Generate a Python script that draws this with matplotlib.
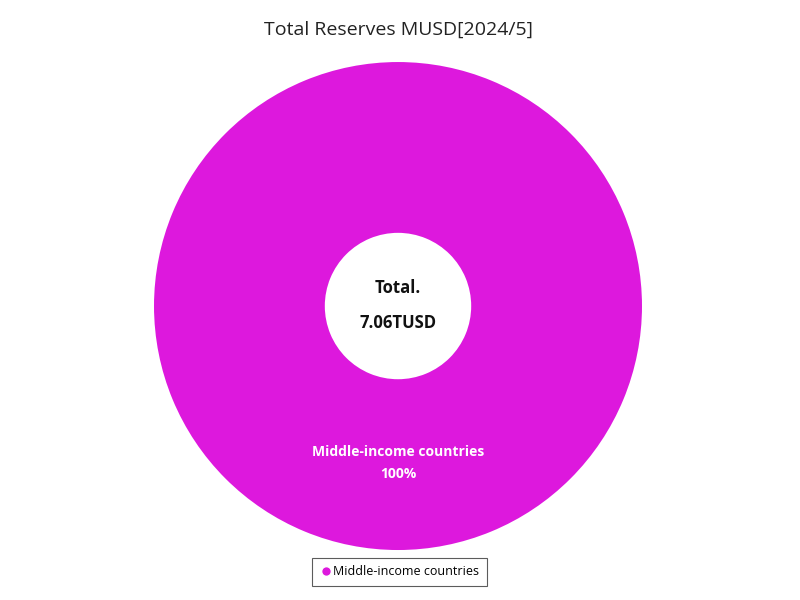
import matplotlib
matplotlib.use("Agg")
import matplotlib.pyplot as plt
from matplotlib.lines import Line2D

plt.rcParams['font.family'] = ['Open Sans', 'DejaVu Sans']

categories = ["Middle-income countries"]
values = [7.06]
colors = ["#DD18DD"]
title = "Total Reserves MUSD[2024/5]"
total_label = "7.06TUSD"

fig = plt.figure(figsize=(8, 6), dpi=100)
fig.text(0.4975, 0.95, title, ha='center', va='center', fontsize=14, color='#222222')
ax = fig.add_axes([0.1925, 0.0833, 0.61, 0.8133])
ax.pie(values, colors=colors, radius=1, startangle=90, counterclock=False,
       wedgeprops=dict(width=1 - 0.3, edgecolor='white', linewidth=0))
ax.set_xlim(-1, 1); ax.set_ylim(-1, 1); ax.set_aspect('equal'); ax.axis('off')
total = sum(values)
ax.text(0, -0.60, categories[0], ha='center', va='center', color='white', fontsize=10, fontweight='bold')
ax.text(0, -0.69, f"{values[0]/total*100:.0f}%", ha='center', va='center', color='white', fontsize=10, fontweight='bold')
ax.text(0, 0.074, "Total.", ha='center', va='center', fontsize=12, fontweight='bold', color='#111111')
ax.text(0, -0.07, total_label, ha='center', va='center', fontsize=12, fontweight='bold', color='#111111')

handles = [Line2D([0], [0], marker='o', color='w', markerfacecolor=c, markersize=7, label=l)
           for c, l in zip(colors, categories)]
leg = fig.legend(handles=handles, loc='center', bbox_to_anchor=(0.4994, 0.047), fontsize=9,
                 frameon=True, fancybox=False, edgecolor='#333333', handletextpad=0.1,
                 handlelength=1, borderpad=0.6)
leg.get_frame().set_linewidth(0.8)
fig.savefig("out.png", dpi=100)
